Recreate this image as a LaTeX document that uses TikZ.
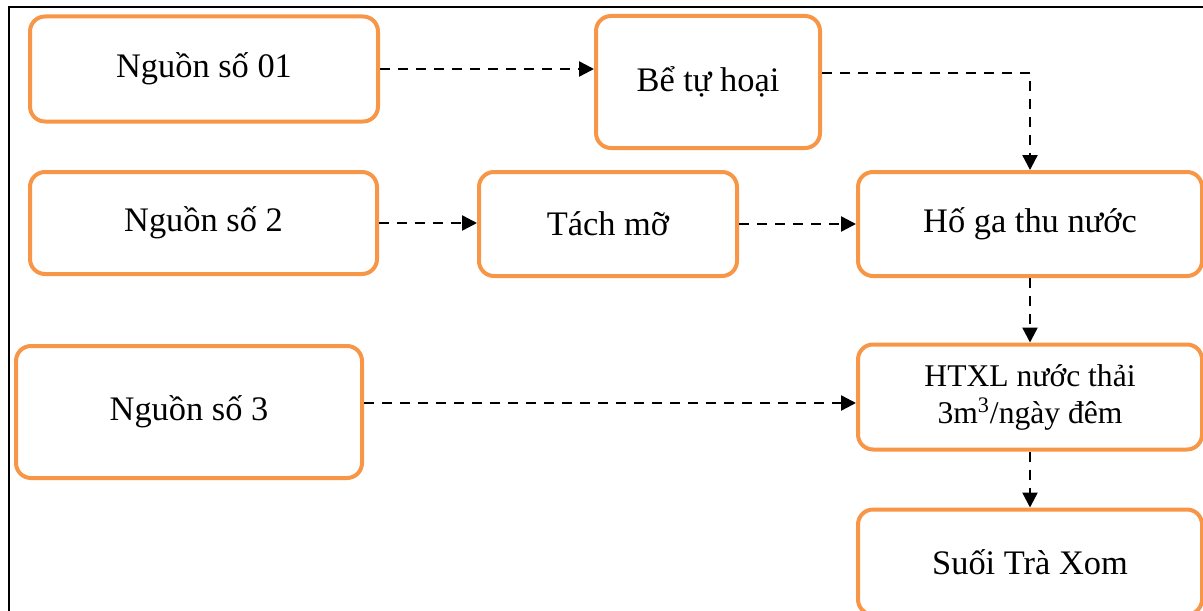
\documentclass[tikz,border=0pt]{standalone}
\usepackage{fontspec}
\setmainfont{Liberation Serif}
\usetikzlibrary{shapes.geometric, arrows.meta}
\definecolor{boxorange}{HTML}{F79646}
\tikzstyle{block} = [rectangle, rounded corners=7.5pt, draw=boxorange, line width=2pt, text centered, font=\fontsize{17.2}{20}\selectfont]
\tikzstyle{arrow} = [line width=1.2pt, dash pattern=on 5pt off 4pt, -{Triangle[length=7.5pt,width=7.5pt]}]

\begin{document}
\begin{tikzpicture}[x=0.5pt, y=-0.5pt]
        \useasboundingbox (0,0) rectangle (1203,610);
        \draw [line width=1pt] (9,640) -- (9,7) -- (1230,7);
        \node [block, minimum width=174pt, minimum height=52.5pt] at (204,69) (src1) {Nguồn số 01};
        \node [block, minimum width=112pt, minimum height=66pt] at (708,82) (tank) {Bể tự hoại};
        \node [block, minimum width=173.5pt, minimum height=51pt] at (203.5,223) (src2) {Nguồn số 2};
        \node [block, minimum width=129pt, minimum height=52pt] at (608,224) (grease) {Tách mỡ};
        \node [block, minimum width=172pt, minimum height=52pt] at (1030,224) (pit) {Hố ga thu nước};
        \node [block, minimum width=173pt, minimum height=66pt] at (189,412) (src3) {Nguồn số 3};
        \node [block, minimum width=172pt, minimum height=52.5pt, align=center, font=\fontsize{15.8}{18.5}\selectfont] at (1030,397) (plant) {HTXL nước thải\\3m\textsuperscript{3}/ngày đêm};
        \node [block, minimum width=172pt, minimum height=52.5pt] at (1030,562) (stream) {Suối Trà Xom};
        \draw [arrow] (src1.east) -- (src1.east -| tank.west);
        \draw [arrow] ([yshift=4.5pt]tank.east) -| (pit.north);
        \draw [arrow] (src2.east) -- (src2.east -| grease.west);
        \draw [arrow] (grease.east) -- (grease.east -| pit.west);
        \draw [arrow] (pit.south) -- (plant.north);
        \draw [arrow] ([yshift=4.5pt]src3.east) -- ([yshift=4.5pt]src3.east -| plant.west);
        \draw [arrow] (plant.south) -- (stream.north);
        \end{tikzpicture}
\end{document}
